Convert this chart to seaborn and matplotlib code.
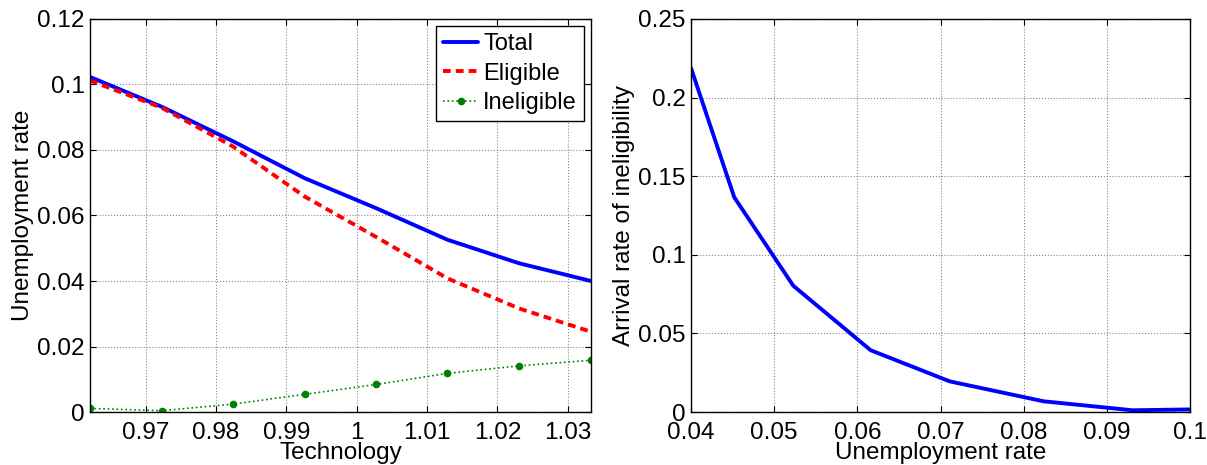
import numpy as np
import matplotlib
matplotlib.use("Agg")
import matplotlib.pyplot as plt
from matplotlib.ticker import FuncFormatter
import seaborn as sns

# datos
technology = [0.9621, 0.9723, 0.9824, 0.9926, 1.0028, 1.0129, 1.0231, 1.0333]
total = [0.1023, 0.0932, 0.0827, 0.0714, 0.0622, 0.0526, 0.0454, 0.0400]
eligible = [0.1012, 0.0929, 0.0811, 0.0658, 0.0534, 0.0408, 0.0316, 0.0245]
ineligible = [0.0011, 0.0004, 0.0024, 0.0054, 0.0084, 0.0118, 0.0141, 0.0158]

u_rate = [0.0400, 0.0452, 0.0523, 0.0616, 0.0711, 0.0824, 0.0931, 0.1023]
arrival = [0.2188, 0.1366, 0.0803, 0.0393, 0.0195, 0.0068, 0.0011, 0.0018]

sns.set_style("ticks")
plt.rcParams['font.family'] = ['Liberation Sans', 'DejaVu Sans']
plt.rcParams['text.color'] = 'black'
plt.rcParams['axes.labelcolor'] = 'black'
plt.rcParams['xtick.color'] = 'black'
plt.rcParams['ytick.color'] = 'black'

fig = plt.figure(figsize=(12.07, 4.65), dpi=100)
ax1 = fig.add_axes([90/1207, 1-412/465, 501/1207, 393/465])
ax2 = fig.add_axes([691/1207, 1-412/465, 499/1207, 393/465])

fmt = FuncFormatter(lambda v, p: "%g" % round(v, 4))

sns.lineplot(x=technology, y=total, ax=ax1, color="blue", lw=2.8, label="Total")
sns.lineplot(x=technology, y=eligible, ax=ax1, color="red", lw=2.8,
             linestyle=(0, (2.0, 1.3)), label="Eligible")
sns.lineplot(x=technology, y=ineligible, ax=ax1, color="green", lw=1.2,
             linestyle=":", marker="o", markersize=5.5, markeredgewidth=0,
             label="Ineligible")
ax1.set_xlim(0.9621, 1.0333)
ax1.set_ylim(0, 0.12)
ax1.set_xticks([0.97, 0.98, 0.99, 1.0, 1.01, 1.02, 1.03])
ax1.set_yticks([0, 0.02, 0.04, 0.06, 0.08, 0.1, 0.12])
ax1.set_xlabel("Technology", fontsize=17.5, labelpad=-1)
ax1.set_ylabel("Unemployment rate", fontsize=17.5, labelpad=2)
leg = ax1.legend(loc="upper right", fontsize=17, frameon=True, fancybox=False,
                 edgecolor="black", borderaxespad=0.3, handlelength=1.5,
                 handletextpad=0.2, borderpad=0.3, labelspacing=0.32,
                 framealpha=1)
leg.get_frame().set_linewidth(1.0)

sns.lineplot(x=u_rate, y=arrival, ax=ax2, color="blue", lw=2.8)
ax2.set_xlim(0.04, 0.1)
ax2.set_ylim(0, 0.25)
ax2.set_xticks([0.04, 0.05, 0.06, 0.07, 0.08, 0.09, 0.1])
ax2.set_yticks([0, 0.05, 0.1, 0.15, 0.2, 0.25])
ax2.set_xlabel("Unemployment rate", fontsize=17.5, labelpad=-1)
ax2.set_ylabel("Arrival rate of ineligibility", fontsize=17.5, labelpad=2)

for ax in (ax1, ax2):
    ax.xaxis.set_major_formatter(fmt)
    ax.yaxis.set_major_formatter(fmt)
    ax.grid(True, linestyle=":", color="#888888", linewidth=0.8)
    ax.tick_params(direction="in", top=True, right=True, labelsize=17.5,
                   length=4, width=0.8, pad=4)
    ax.tick_params(axis="x", pad=7)
    for s in ax.spines.values():
        s.set_visible(True)
        s.set_linewidth(1.0)
        s.set_color("black")

fig.savefig("out.png", dpi=100)
